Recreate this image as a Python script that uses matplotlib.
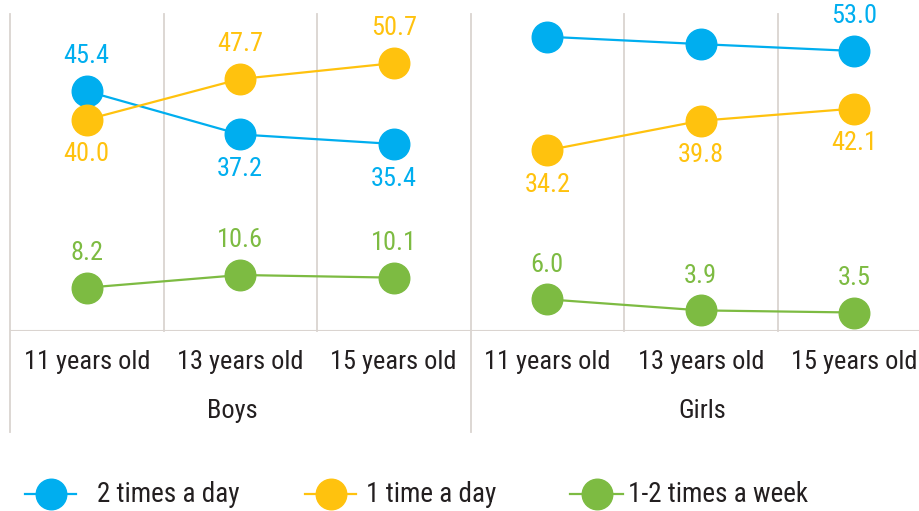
import matplotlib
matplotlib.use("Agg")
import matplotlib.pyplot as plt
from matplotlib.lines import Line2D

plt.rcParams['font.family'] = ['Liberation Sans Narrow', 'Roboto Condensed', 'DejaVu Sans']
plt.rcParams['font.stretch'] = 'condensed'

categories = ["11 years old", "13 years old", "15 years old",
              "11 years old", "13 years old", "15 years old"]
groups = ["Boys", "Girls"]
series_names = ["2 times a day", "1 time a day", "1-2 times a week"]
two_per_day = [45.4, 37.2, 35.4, 55.7, 54.3, 53.0]
one_per_day = [40.0, 47.7, 50.7, 34.2, 39.8, 42.1]
weekly = [8.2, 10.6, 10.1, 6.0, 3.9, 3.5]
# None = label not visible in the reference (falls outside the picture)
label_pos = {
    "2 times a day": ["above", "below", "below", None, None, "above"],
    "1 time a day": ["below", "above", "above", "below", "below", "below"],
    "1-2 times a week": ["above"] * 6,
}

colors = ["#00AEEF", "#FFC20E", "#7DBB42"]
text_color = "#231F20"
grid_color = "#DAD4D0"

W, H = 919, 511
fig = plt.figure(figsize=(W / 100, H / 100), dpi=100)
ax = fig.add_axes([10 / W, 1 - 331 / H, (919 - 10) / W, (331 - 14) / H])
ax.set_xlim(-0.5, 5.5 - (931 - 919) / 153.5)
ax.set_ylim(0, 60)
for s in ax.spines.values():
    s.set_visible(False)
ax.set_yticks([])

# grid / separators
for b in [-0.5, 0.5, 1.5, 2.5, 3.5, 4.5]:
    ymin = -0.32 if b in (-0.5, 2.5) else 0
    ax.axvline(b, ymin=ymin, ymax=1, color=grid_color, lw=1.3, clip_on=False, zorder=0)
ax.axhline(0, color=grid_color, lw=1.5, zorder=0)

xs = list(range(6))
all_series = [two_per_day, one_per_day, weekly]
for name, vals, c in zip(series_names, all_series, colors):
    for seg in (slice(0, 3), slice(3, 6)):
        ax.plot(xs[seg], vals[seg], color=c, lw=1.6, marker="o", ms=22,
                markeredgecolor=c, zorder=3, clip_on=False)
    for x, v, p in zip(xs, vals, label_pos[name]):
        if p is None:
            continue
        off = 25 if p == "above" else -25
        ax.annotate(f"{v:.1f}", (x, v), xytext=(0, off), textcoords="offset points",
                    ha="center", va="center", color=c, fontsize=19, zorder=4,
                    annotation_clip=False)

ax.set_xticks(xs, categories)
ax.tick_params(axis="x", length=0, pad=14, labelsize=19, labelcolor=text_color)

fig.text(232 / W, 1 - 411 / H, groups[0], ha="center", va="center", fontsize=19, color=text_color)
fig.text(702 / W, 1 - 411 / H, groups[1], ha="center", va="center", fontsize=19, color=text_color)

# legend
leg_y = 1 - 494 / H
for (x0, x1, tx), name, c in zip([(25, 76, 97), (305, 356, 366), (570, 623, 628)],
                                 series_names, colors):
    fig.add_artist(Line2D([x0 / W, x1 / W], [leg_y, leg_y], transform=fig.transFigure,
                          color=c, lw=1.6))
    fig.add_artist(Line2D([(x0 + x1) / 2 / W], [leg_y], transform=fig.transFigure,
                          color=c, marker="o", ms=22, markeredgecolor=c, lw=0))
    fig.text(tx / W, leg_y, name, ha="left", va="center", fontsize=19.5, color=text_color)

fig.savefig("out.png", dpi=100)
